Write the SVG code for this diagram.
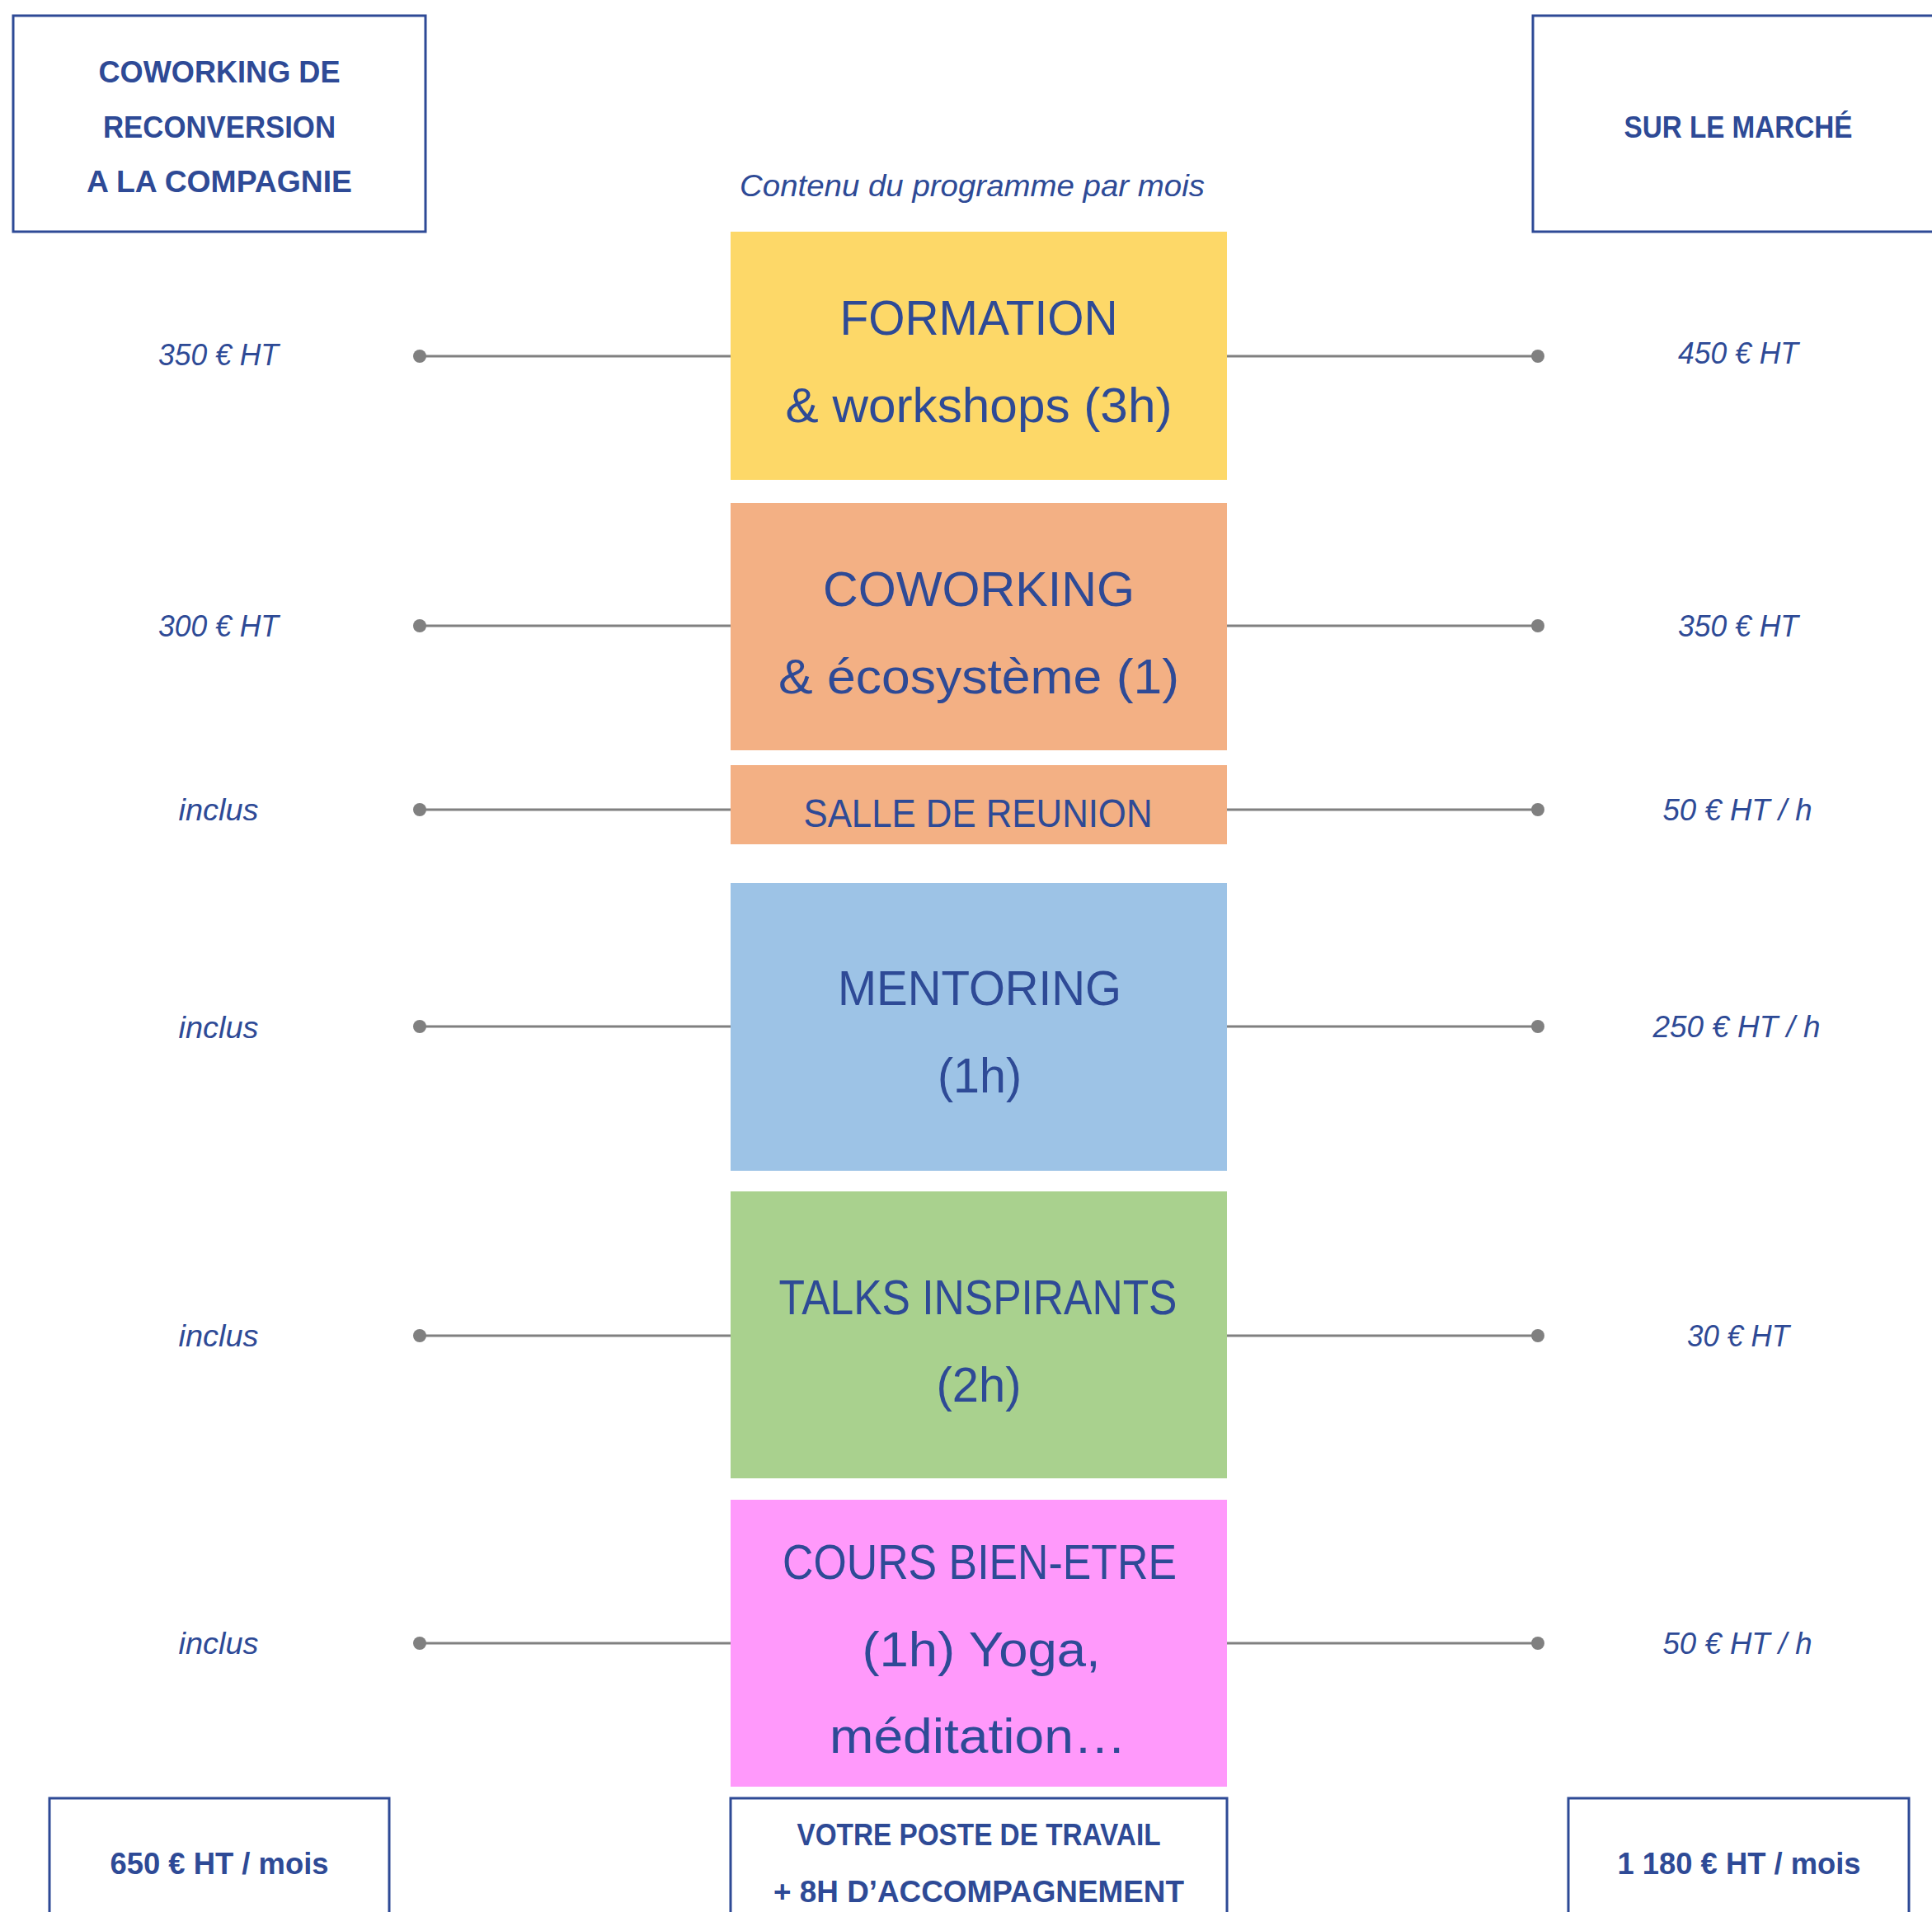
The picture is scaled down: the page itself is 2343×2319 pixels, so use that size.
<svg xmlns="http://www.w3.org/2000/svg" width="2343" height="2319" viewBox="0 0 2343 2319">
<style>
.frame{fill:#ffffff;stroke:#2E4A96;stroke-width:3}
.t{font-family:"Liberation Sans","DejaVu Sans",sans-serif;fill:#2E4A96;text-anchor:middle}
.hb{font-weight:bold;font-size:37px}
.big{font-size:60px}
.mid{font-size:48px}
.lab{font-style:italic;font-size:37px}
.conn{stroke:#808080;stroke-width:3;fill:none}
.dot{fill:#808080}
</style>
<rect width="2343" height="2319" fill="#ffffff"/>
<g id="header-left">
<rect class="frame" x="16" y="19" width="500" height="262"/>
<text class="t hb" x="266" y="100" textLength="293" lengthAdjust="spacingAndGlyphs">COWORKING DE</text>
<text class="t hb" x="266" y="167" textLength="282" lengthAdjust="spacingAndGlyphs">RECONVERSION</text>
<text class="t hb" x="266" y="233" textLength="322" lengthAdjust="spacingAndGlyphs">A LA COMPAGNIE</text>
</g>
<g id="header-right">
<rect class="frame" x="1859" y="19" width="520" height="262"/>
<text class="t hb" x="2108" y="167" textLength="277" lengthAdjust="spacingAndGlyphs">SUR LE MARCHÉ</text>
</g>
<g id="subtitle">
<text class="t" x="1179" y="238" font-style="italic" font-size="36" textLength="564" lengthAdjust="spacingAndGlyphs">Contenu du programme par mois</text>
</g>
<g id="connectors">
<line class="conn" x1="509" y1="432" x2="886" y2="432"/><line class="conn" x1="1488" y1="432" x2="1865" y2="432"/>
<circle class="dot" cx="509" cy="432" r="8"/><circle class="dot" cx="1865" cy="432" r="8"/>
<line class="conn" x1="509" y1="759" x2="886" y2="759"/><line class="conn" x1="1488" y1="759" x2="1865" y2="759"/>
<circle class="dot" cx="509" cy="759" r="8"/><circle class="dot" cx="1865" cy="759" r="8"/>
<line class="conn" x1="509" y1="982" x2="886" y2="982"/><line class="conn" x1="1488" y1="982" x2="1865" y2="982"/>
<circle class="dot" cx="509" cy="982" r="8"/><circle class="dot" cx="1865" cy="982" r="8"/>
<line class="conn" x1="509" y1="1245" x2="886" y2="1245"/><line class="conn" x1="1488" y1="1245" x2="1865" y2="1245"/>
<circle class="dot" cx="509" cy="1245" r="8"/><circle class="dot" cx="1865" cy="1245" r="8"/>
<line class="conn" x1="509" y1="1620" x2="886" y2="1620"/><line class="conn" x1="1488" y1="1620" x2="1865" y2="1620"/>
<circle class="dot" cx="509" cy="1620" r="8"/><circle class="dot" cx="1865" cy="1620" r="8"/>
<line class="conn" x1="509" y1="1993" x2="886" y2="1993"/><line class="conn" x1="1488" y1="1993" x2="1865" y2="1993"/>
<circle class="dot" cx="509" cy="1993" r="8"/><circle class="dot" cx="1865" cy="1993" r="8"/>
</g>
<g id="formation">
<rect x="886" y="281" width="602" height="301" fill="#FDD868"/>
<text class="t big" x="1187" y="406" textLength="337" lengthAdjust="spacingAndGlyphs">FORMATION</text>
<text class="t big" x="1187" y="512" textLength="469" lengthAdjust="spacingAndGlyphs">&amp; workshops (3h)</text>
</g>
<g id="coworking">
<rect x="886" y="610" width="602" height="300" fill="#F3B084"/>
<text class="t big" x="1187" y="735" textLength="378" lengthAdjust="spacingAndGlyphs">COWORKING</text>
<text class="t big" x="1187" y="841" textLength="486" lengthAdjust="spacingAndGlyphs">&amp; écosystème (1)</text>
</g>
<g id="salle">
<rect x="886" y="928" width="602" height="96" fill="#F3B084"/>
<text class="t mid" x="1186" y="1003" textLength="423" lengthAdjust="spacingAndGlyphs">SALLE DE REUNION</text>
</g>
<g id="mentoring">
<rect x="886" y="1071" width="602" height="349" fill="#9DC3E6"/>
<text class="t big" x="1188" y="1219" textLength="344" lengthAdjust="spacingAndGlyphs">MENTORING</text>
<text class="t big" x="1188" y="1325" textLength="102" lengthAdjust="spacingAndGlyphs">(1h)</text>
</g>
<g id="talks">
<rect x="886" y="1445" width="602" height="348" fill="#A9D18E"/>
<text class="t big" x="1186" y="1594" textLength="483" lengthAdjust="spacingAndGlyphs">TALKS INSPIRANTS</text>
<text class="t big" x="1187" y="1700" textLength="103" lengthAdjust="spacingAndGlyphs">(2h)</text>
</g>
<g id="cours">
<rect x="886" y="1819" width="602" height="348" fill="#FF99FB"/>
<text class="t big" x="1188" y="1915" textLength="478" lengthAdjust="spacingAndGlyphs">COURS BIEN-ETRE</text>
<text class="t big" x="1190" y="2021" textLength="289" lengthAdjust="spacingAndGlyphs">(1h) Yoga,</text>
<text class="t big" x="1186" y="2126" textLength="360" lengthAdjust="spacingAndGlyphs">méditation…</text>
</g>
<g id="left-prices">
<text class="t lab" x="265" y="443" textLength="146" lengthAdjust="spacingAndGlyphs">350 € HT</text>
<text class="t lab" x="265" y="772" textLength="146" lengthAdjust="spacingAndGlyphs">300 € HT</text>
<text class="t lab" x="265" y="995" textLength="97" lengthAdjust="spacingAndGlyphs">inclus</text>
<text class="t lab" x="265" y="1259" textLength="97" lengthAdjust="spacingAndGlyphs">inclus</text>
<text class="t lab" x="265" y="1633" textLength="97" lengthAdjust="spacingAndGlyphs">inclus</text>
<text class="t lab" x="265" y="2006" textLength="97" lengthAdjust="spacingAndGlyphs">inclus</text>
</g>
<g id="right-prices">
<text class="t lab" x="2108" y="441" textLength="146" lengthAdjust="spacingAndGlyphs">450 € HT</text>
<text class="t lab" x="2108" y="772" textLength="146" lengthAdjust="spacingAndGlyphs">350 € HT</text>
<text class="t lab" x="2107" y="995" textLength="181" lengthAdjust="spacingAndGlyphs">50 € HT / h</text>
<text class="t lab" x="2106" y="1258" textLength="203" lengthAdjust="spacingAndGlyphs">250 € HT / h</text>
<text class="t lab" x="2108" y="1633" textLength="124" lengthAdjust="spacingAndGlyphs">30 € HT</text>
<text class="t lab" x="2107" y="2006" textLength="181" lengthAdjust="spacingAndGlyphs">50 € HT / h</text>
</g>
<g id="total-left">
<rect class="frame" x="60" y="2181" width="412" height="160"/>
<text class="t hb" x="266" y="2273" textLength="265" lengthAdjust="spacingAndGlyphs">650 € HT / mois</text>
</g>
<g id="total-center">
<rect class="frame" x="886" y="2181" width="602" height="160"/>
<text class="t hb" x="1187" y="2238" textLength="441" lengthAdjust="spacingAndGlyphs">VOTRE POSTE DE TRAVAIL</text>
<text class="t hb" x="1187" y="2307" textLength="498" lengthAdjust="spacingAndGlyphs">+ 8H D’ACCOMPAGNEMENT</text>
</g>
<g id="total-right">
<rect class="frame" x="1902" y="2181" width="413" height="160"/>
<text class="t hb" x="2109" y="2273" textLength="295" lengthAdjust="spacingAndGlyphs">1 180 € HT / mois</text>
</g>
</svg>
